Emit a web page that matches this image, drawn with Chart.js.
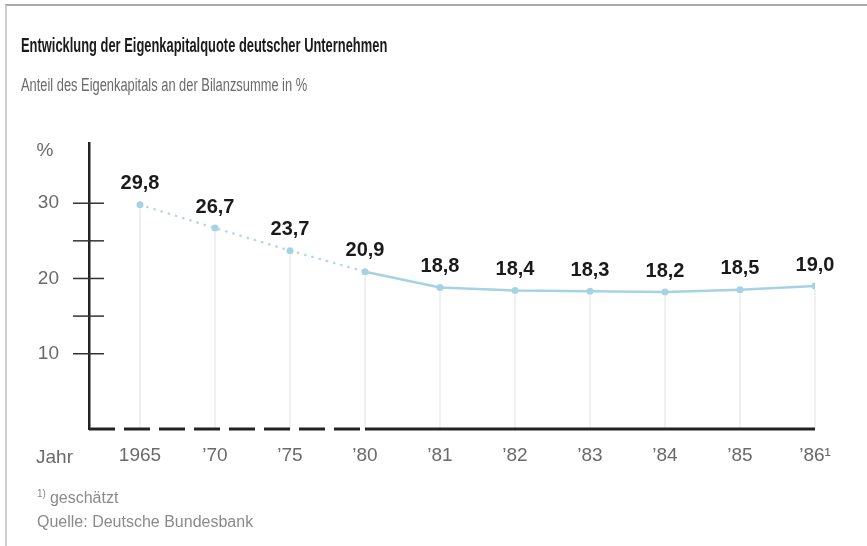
<!DOCTYPE html>
<html lang="de">
<head>
<meta charset="utf-8">
<script src="https://cdn.jsdelivr.net/npm/chart.js@4.4.1/dist/chart.umd.min.js"></script>
<style>
  html, body { margin: 0; padding: 0; background: #fff; }
  #wrap { position: relative; width: 867px; height: 546px; overflow: hidden; font-family: "Liberation Sans", Arial, sans-serif; }
  #frame { position: absolute; left: 5px; top: 4px; right: -4px; bottom: -4px; border-top: 2px solid #a9a9a9; border-left: 2px solid #cfcfcf; }
  #chart { position: absolute; left: 0; top: 0; }
  .txt { position: absolute; white-space: nowrap; line-height: 1; transform-origin: left top; }
  #title { left: 21px; top: 35px; font-size: 20px; font-weight: bold; color: #1a1a1a; transform: scaleX(0.645); }
  #subtitle { left: 21px; top: 76px; font-size: 18px; color: #6a6a6a; transform: scaleX(0.715); }
  #note { left: 37px; top: 489px; font-size: 16px; color: #8a8a8a; }
  #note sup { font-size: 10px; vertical-align: 6px; margin-right: 4px; }
  #source { left: 37px; top: 514px; font-size: 16px; color: #8a8a8a; }
</style>
</head>
<body>
<div id="wrap">
  <div id="frame"></div>
  <canvas id="chart" width="867" height="546"></canvas>
  <div class="txt" id="title">Entwicklung der Eigenkapitalquote deutscher Unternehmen</div>
  <div class="txt" id="subtitle">Anteil des Eigenkapitals an der Bilanzsumme in %</div>
  <div class="txt" id="note"><sup>1)</sup>geschätzt</div>
  <div class="txt" id="source">Quelle: Deutsche Bundesbank</div>
</div>
<script>
// Jahre und Eigenkapitalquote in %
const years = ['1965', '’70', '’75', '’80', '’81', '’82', '’83', '’84', '’85', '’86¹'];
const quote = [29.8, 26.7, 23.7, 20.9, 18.8, 18.4, 18.3, 18.2, 18.5, 19.0];
const yTicks = [10, 15, 20, 25, 30];
const lastEstimatedIndex = 3; // bis '80 gepunktet bzw. gestrichelte Achse

const lineBlue = '#a6d3e4';
const axisDark = '#222';
const tickFont = { family: '"Liberation Sans", Arial, sans-serif', size: 19 };

const fmt = (v) => v.toFixed(1).replace('.', ',');

const chartExtras = {
  id: 'chartExtras',
  beforeDatasetsDraw(chart) {
    const { ctx, scales: { x, y } } = chart;
    const meta = chart.getDatasetMeta(0);
    const base = y.getPixelForValue(0);
    ctx.save();
    // senkrechte Hilfslinien vom Punkt zur Achse
    ctx.strokeStyle = '#e2e2e2';
    ctx.lineWidth = 1;
    meta.data.forEach((pt) => {
      ctx.beginPath();
      ctx.moveTo(pt.x, pt.y + 4);
      ctx.lineTo(pt.x, base);
      ctx.stroke();
    });
    // Grundlinie: gestrichelt bis '80, dann durchgezogen
    const xSplit = x.getPixelForValue(lastEstimatedIndex);
    ctx.strokeStyle = axisDark;
    ctx.lineWidth = 3;
    ctx.setLineDash([26, 9]);
    ctx.beginPath();
    ctx.moveTo(x.left, base);
    ctx.lineTo(xSplit, base);
    ctx.stroke();
    ctx.setLineDash([]);
    ctx.beginPath();
    ctx.moveTo(xSplit, base);
    ctx.lineTo(x.getPixelForValue(years.length - 1), base);
    ctx.stroke();
    // Querstriche an der y-Achse
    ctx.lineWidth = 1.5;
    ctx.strokeStyle = '#333';
    yTicks.forEach((v) => {
      const py = y.getPixelForValue(v);
      ctx.beginPath();
      ctx.moveTo(y.right - 16, py);
      ctx.lineTo(y.right + 15, py);
      ctx.stroke();
    });
    ctx.restore();
  },
  afterDatasetsDraw(chart) {
    const { ctx } = chart;
    const meta = chart.getDatasetMeta(0);
    ctx.save();
    ctx.textAlign = 'center';
    ctx.textBaseline = 'middle';
    ctx.fillStyle = '#1a1a1a';
    ctx.font = 'bold 20px "Liberation Sans", Arial, sans-serif';
    meta.data.forEach((pt, i) => {
      ctx.fillText(fmt(quote[i]), pt.x, pt.y - 21);
    });
    // Achsenbeschriftungen
    ctx.fillStyle = '#6a6a6a';
    ctx.font = '19px "Liberation Sans", Arial, sans-serif';
    ctx.fillText('%', 45, 151);
    ctx.textAlign = 'left';
    ctx.textBaseline = 'top';
    ctx.fillText('Jahr', 36, 448);
    ctx.restore();
  }
};

new Chart(document.getElementById('chart'), {
  type: 'line',
  data: {
    datasets: [{
      data: quote.map((v, i) => ({ x: i, y: v })),
      borderColor: lineBlue,
      backgroundColor: lineBlue,
      borderWidth: 2.5,
      pointRadius: 3.5,
      pointBorderWidth: 0,
      pointBackgroundColor: lineBlue,
      tension: 0,
      segment: {
        borderDash: (c) => (c.p1DataIndex <= lastEstimatedIndex ? [0.5, 7] : undefined),
        borderCapStyle: (c) => (c.p1DataIndex <= lastEstimatedIndex ? 'round' : 'butt'),
        borderColor: (c) => (c.p1DataIndex <= lastEstimatedIndex ? '#bcd9e2' : lineBlue)
      }
    }]
  },
  options: {
    responsive: false,
    animation: false,
    layout: { padding: { left: 38, right: 52, top: 143, bottom: 77 } },
    plugins: { legend: { display: false }, tooltip: { enabled: false } },
    scales: {
      x: {
        type: 'linear',
        min: -0.68,
        max: years.length - 1,
        afterBuildTicks: (s) => { s.ticks = years.map((_, i) => ({ value: i })); },
        afterFit: (s) => { s.height = 40; },
        grid: { display: false, drawTicks: false },
        border: { display: false },
        ticks: {
          autoSkip: false,
          maxRotation: 0,
          padding: 15,
          color: '#6a6a6a',
          font: tickFont,
          callback: (v) => years[v]
        }
      },
      y: {
        min: 0,
        max: 38,
        afterFit: (s) => { s.width = 51; },
        grid: { display: false, drawTicks: false },
        border: { display: true, color: axisDark, width: 2.5 },
        ticks: {
          stepSize: 5,
          includeBounds: false,
          padding: 30,
          color: '#6a6a6a',
          font: tickFont,
          callback: (v) => (v > 0 && v % 10 === 0 ? v : '')
        }
      }
    }
  },
  plugins: [chartExtras]
});
</script>
</body>
</html>
